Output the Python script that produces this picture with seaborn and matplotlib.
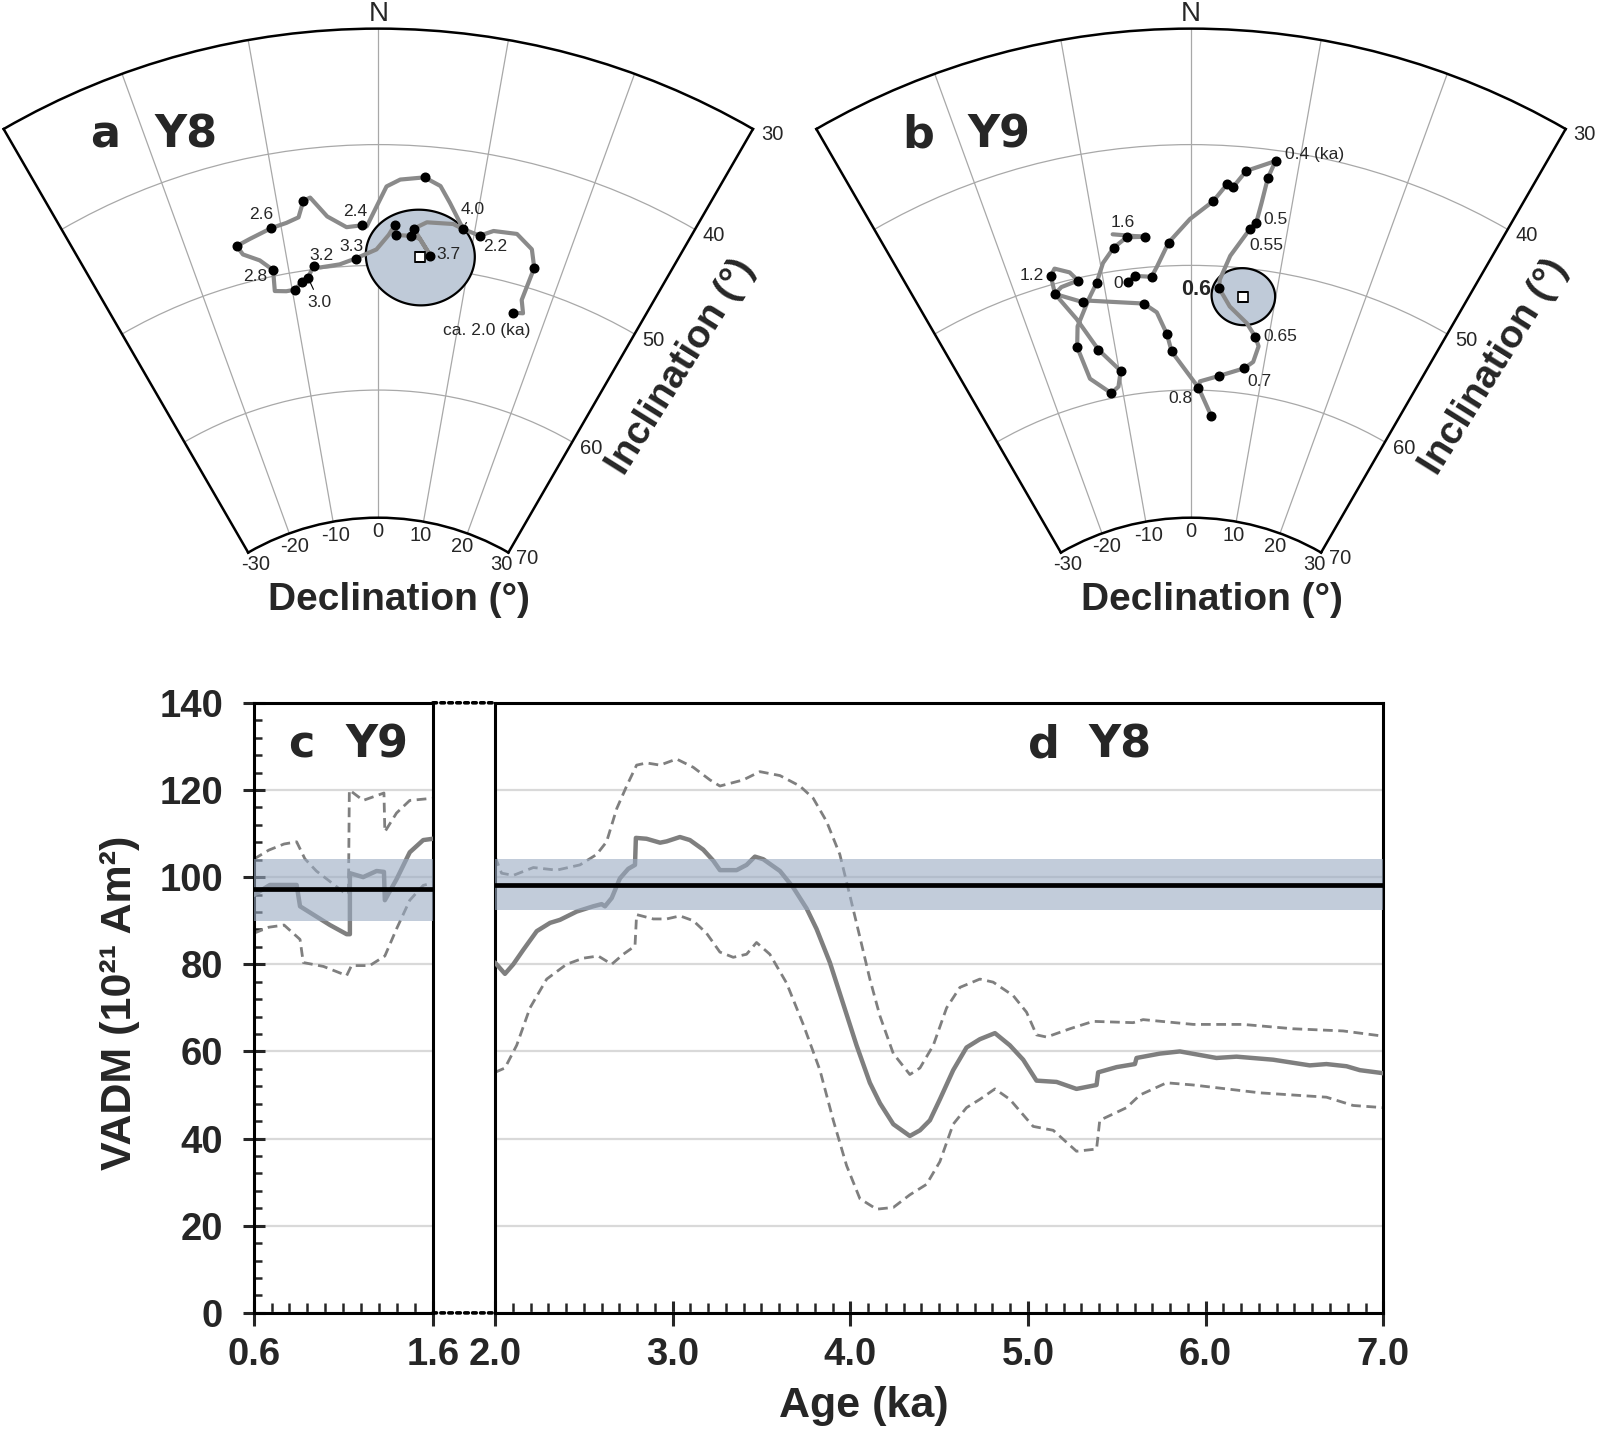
import numpy as np
import pandas as pd
import seaborn as sns
import matplotlib.pyplot as plt
from matplotlib.patches import ConnectionPatch
from matplotlib.ticker import MultipleLocator

sns.set_style("white")
plt.rcParams['font.family'] = ['Liberation Sans', 'DejaVu Sans']

W, H = 1597, 1430

# ---------- a: Y8 directions (declination, inclination in deg) ----------
y8_dec = [16.1, 17.3, 16.7, 17.0, 16.2, 14.3, 11.9, 10.6, 8.8, 7.1, 6.0, 4.4, 2.1, 0.8, -0.5, -1.2, -1.7,
          -3.3, -5.2, -6.7, -7.4, -8.1, -9.4, -11.0, -13.4, -14.9, -14.5, -12.9, -11.7, -12.0, -10.7, -9.7,
          -8.8, -8.0, -7.2, -6.5, -4.3, -2.5, -0.2, 1.1, 1.7, 1.9, 3.5, 4.4, 5.7, 3.7, 5.0, 7.7, 8.8]
y8_inc = [52.3, 52.1, 51.1, 48.3, 46.9, 46.0, 46.2, 46.8, 46.5, 44.5, 43.2, 42.6, 42.9, 43.5, 45.7, 46.8, 46.7,
          46.8, 45.8, 44.1, 44.3, 45.6, 45.9, 46.1, 46.6, 46.9, 47.7, 48.5, 49.5, 51.2, 51.4, 51.4,
          50.9, 50.6, 49.7, 49.9, 49.8, 49.4, 48.7, 47.5, 46.7, 47.5, 47.5, 47.7, 49.0, 46.9, 46.3, 46.2, 46.5]
y8_dot_dec = [16.1, 17.0, 10.6, 8.8, 4.4, -1.7, -7.4, -11.0, -14.9, -11.7, -9.7, -8.8, -8.0, -7.2, -2.5,
              1.7, 1.9, 3.5, 5.7, 3.7]
y8_dot_inc = [52.3, 48.3, 46.8, 46.5, 42.6, 46.7, 44.3, 46.1, 46.9, 49.5, 51.4, 50.9, 50.6, 49.7, 49.4,
              46.7, 47.5, 47.5, 49.0, 46.9]
y8_mean_dir = (4.6, 49.2)
y8_a95 = 3.9

# ---------- b: Y9 directions ----------
y9_dec_1 = [-7.2, -6.4, -4.5, -3.8, -2.4, -0.1, 2.2, 3.5, 4.1, 5.2, 7.8, 7.3, 7.0, 6.7, 6.1, 4.3, 3.3, 3.3,
            4.7, 7.0, 8.3, 8.9, 8.5, 7.4, 4.0, 1.3, 1.1, 3.2]
y9_inc_1 = [51.0, 50.6, 50.8, 50.0, 48.1, 46.2, 44.7, 43.2, 43.4, 42.0, 40.9, 42.4, 44.5, 46.2, 46.8, 49.1,
            51.1, 51.8, 53.2, 54.4, 55.4, 56.1, 57.4, 58.0, 58.8, 59.3, 59.8, 62.0]
y9_dec_2 = [1.1, -2.6, -3.1, -4.2, -5.7, -12.0, -12.8, -15.7, -15.6, -15.0, -13.5, -12.8, -14.8, -15.7, -14.0,
            -12.2, -9.8, -10.5, -11.7, -14.2, -14.8, -14.1, -12.1, -10.8, -9.7, -8.3, -6.8, -4.9, -6.4, -8.2]
y9_inc_2 = [59.8, 56.9, 55.5, 53.7, 52.9, 52.0, 52.0, 50.8, 49.3, 48.8, 49.4, 50.2, 50.4, 50.8, 53.2,
            56.0, 58.0, 59.2, 59.6, 58.1, 55.4, 53.8, 51.9, 50.7, 49.2, 48.1, 47.4, 47.5, 47.3, 47.0]
y9_dot_dec = [-7.2, -6.4, -4.5, -2.4, 2.2, 3.5, 4.1, 5.2, 7.8, 7.3, 6.7, 6.1, 3.3, 8.3, 7.4, 4.0, 1.1, 3.2,
              -2.6, -3.1, -5.7, -12.8, -15.7, -15.6, -12.8, -12.2, -9.8, -11.7, -14.8, -10.8, -8.3, -6.8, -4.9]
y9_dot_inc = [51.0, 50.6, 50.8, 48.1, 44.7, 43.2, 43.4, 42.0, 40.9, 42.4, 46.2, 46.8, 51.8, 55.4, 58.0, 58.8,
              59.8, 62.0, 56.9, 55.5, 52.9, 52.0, 50.8, 49.3, 50.2, 56.0, 58.0, 59.6, 55.4, 50.7, 48.1, 47.4, 47.5]
y9_mean_dir = (6.2, 52.3)
y9_a95 = 2.3

# age labels: text, anchor dec, anchor inc
y8_lab_text = ["ca. 2.0 (ka)", "2.2", "4.0", "3.7", "3.3", "3.2", "3.0", "2.8", "2.6", "2.4"]
y8_lab_dec = [16.1, 10.6, 8.8, 5.7, -2.5, -7.2, -8.0, -11.7, -11.0, -1.7]
y8_lab_inc = [52.3, 46.8, 46.5, 49.0, 49.4, 49.7, 50.6, 49.5, 46.1, 46.7]
y9_lab_text = ["0.4 (ka)", "0.5", "0.55", "0.6", "0.65", "0.7", "0.8", "1.2", "1.6", "0"]
y9_lab_dec = [7.8, 6.7, 6.1, 3.3, 8.3, 7.4, 1.1, -15.6, -6.8, -7.2]
y9_lab_inc = [40.9, 46.2, 46.8, 51.8, 55.4, 58.0, 59.8, 49.3, 47.4, 51.0]

# ---------- c, d: VADM (10^21 Am^2) ----------
y9_age = [0.6, 0.691, 0.84, 0.859, 1.026, 1.119, 1.137, 1.137, 1.211, 1.286, 1.327, 1.332, 1.397, 1.471, 1.546, 1.6]
y9_vadm = [95.9, 98.2, 98.2, 93.3, 89.0, 86.9, 86.9, 100.9, 100.0, 101.4, 101.2, 94.7, 99.5, 105.7, 108.5, 108.8]
y9_up_age = [0.6, 0.685, 0.77, 0.84, 0.886, 0.95, 1.026, 1.10, 1.129, 1.134, 1.211, 1.327, 1.332, 1.397, 1.471, 1.6]
y9_up = [104.1, 106.2, 107.6, 108.1, 104.2, 101.4, 99.0, 96.6, 96.2, 120.0, 117.6, 119.3, 110.4, 114.7, 117.6, 118.1]
y9_lo_age = [0.6, 0.685, 0.77, 0.859, 0.877, 0.99, 1.119, 1.146, 1.248, 1.332, 1.397, 1.471, 1.546, 1.6]
y9_lo = [87.1, 88.5, 89.0, 85.7, 80.4, 79.5, 77.4, 79.7, 79.7, 81.9, 88.1, 94.7, 98.1, 98.7]
y9_vadm_mean = 97.3
y9_vadm_band = (90.0, 104.2)

y8_age = [2.0, 2.056, 2.103, 2.159, 2.235, 2.310, 2.366, 2.460, 2.553, 2.600, 2.619, 2.657, 2.703, 2.750, 2.788,
          2.793, 2.853, 2.929, 2.966, 3.041, 3.097, 3.172, 3.228, 3.266, 3.360, 3.416, 3.463, 3.510, 3.604,
          3.679, 3.754, 3.810, 3.885, 3.960, 4.035, 4.110, 4.167, 4.242, 4.335, 4.392, 4.448, 4.504, 4.579,
          4.654, 4.729, 4.814, 4.898, 4.973, 5.048, 5.161, 5.273, 5.386, 5.395, 5.499, 5.602, 5.611, 5.742,
          5.855, 6.061, 6.174, 6.380, 6.586, 6.680, 6.793, 6.868, 7.0]
y8_vadm = [80.4, 77.8, 80.0, 83.3, 87.6, 89.5, 90.2, 92.1, 93.3, 93.8, 93.3, 95.2, 99.7, 101.9, 102.8,
           109.0, 108.8, 107.9, 108.2, 109.2, 108.5, 106.3, 103.8, 101.6, 101.6, 102.8, 104.7, 104.1, 101.4,
           97.6, 92.8, 88.1, 80.4, 70.9, 61.4, 52.8, 48.1, 43.3, 40.6, 41.9, 44.2, 49.0, 55.7,
           60.9, 62.8, 64.2, 61.4, 58.1, 53.3, 53.0, 51.4, 52.3, 55.2, 56.4, 57.1, 58.5, 59.5,
           60.0, 58.5, 58.8, 58.1, 56.8, 57.1, 56.6, 55.7, 55.0]
y8_up_age = [2.0, 2.037, 2.103, 2.216, 2.347, 2.478, 2.572, 2.628, 2.685, 2.741, 2.797, 2.853, 2.929, 3.022,
             3.116, 3.210, 3.266, 3.397, 3.491, 3.604, 3.716, 3.791, 3.866, 3.941, 3.998, 4.054, 4.110, 4.167,
             4.242, 4.335, 4.392, 4.467, 4.542, 4.617, 4.729, 4.804, 4.917, 4.992, 5.048, 5.105, 5.236, 5.367,
             5.592, 5.648, 5.930, 6.211, 6.492, 6.774, 7.0]
y8_up = [104.7, 100.9, 100.4, 102.2, 101.6, 102.8, 105.2, 108.1, 115.7, 120.9, 125.7, 126.2, 125.7, 127.1,
         125.2, 122.3, 120.9, 122.3, 124.2, 123.3, 120.9, 118.1, 112.8, 105.2, 95.7, 86.2, 76.6, 68.1,
         59.5, 54.7, 56.2, 61.4, 70.0, 74.7, 76.6, 75.9, 72.8, 69.0, 63.8, 63.3, 65.2, 66.9,
         66.6, 67.3, 66.2, 66.2, 65.2, 64.7, 63.5]
y8_lo_age = [2.0, 2.056, 2.122, 2.197, 2.291, 2.403, 2.497, 2.581, 2.657, 2.722, 2.788, 2.797, 2.891, 2.966,
             3.041, 3.116, 3.191, 3.266, 3.341, 3.416, 3.472, 3.547, 3.641, 3.735, 3.829, 3.904, 3.979, 4.054,
             4.148, 4.242, 4.335, 4.429, 4.504, 4.579, 4.654, 4.729, 4.814, 4.898, 5.029, 5.142, 5.273, 5.386,
             5.404, 5.555, 5.630, 5.780, 5.930, 6.118, 6.305, 6.492, 6.680, 6.830, 7.0]
y8_lo = [55.2, 56.2, 61.4, 70.0, 76.6, 80.0, 81.4, 81.9, 80.0, 82.3, 84.2, 91.4, 90.4, 90.4,
         91.1, 90.0, 87.1, 82.8, 81.6, 82.3, 85.0, 82.3, 75.7, 66.2, 55.7, 44.2, 33.8, 26.2,
         23.8, 24.2, 27.1, 29.5, 34.7, 43.3, 47.1, 49.0, 51.4, 49.0, 42.8, 41.9, 37.1, 37.6,
         44.2, 47.1, 50.0, 52.8, 52.3, 51.4, 50.5, 50.0, 49.5, 47.6, 47.1]
y8_vadm_mean = 98.3
y8_vadm_band = (92.5, 104.1)

dec_ticks = [-30, -20, -10, 0, 10, 20, 30]
inc_ticks = [30, 40, 50, 60, 70]

PATH = '#8a8a8a'
BAND = '#9aabc2'
FILL = '#bfcad8'


def eqarea(inc):
    # equal-area (Schmidt) radius of an inclination
    return np.sin(np.deg2rad(90 - np.asarray(inc, dtype=float)) / 2)


def px(x, y):
    return x / W, 1 - y / H


fig = plt.figure(figsize=(W / 100, H / 100), dpi=100)


def direction_panel(cx, paths, dot_dec, dot_inc, mean_dir, a95, labels, letter, name):
    side = 749.3
    ax = fig.add_axes([(cx - side / 2) / W, 1 - (290.6 + side / 2) / H, side / W, side / H],
                      projection='polar')
    ax.set_theta_zero_location('N')
    ax.set_theta_direction(-1)
    ax.set_thetamin(-30)
    ax.set_thetamax(30)
    ax.set_rorigin(0)
    ax.set_xticks(np.deg2rad(dec_ticks[1:-1]))
    ax.set_yticks(eqarea(inc_ticks[1:-1]))
    ax.set_xticklabels([])
    ax.set_yticklabels([])
    ax.tick_params(length=0)
    ax.grid(True, color='#a8a8a8', lw=0.9)
    for sp in ax.spines.values():
        sp.set_color('black')
        sp.set_linewidth(1.8)

    # a95 cone around the mean direction
    t = np.linspace(0, 2 * np.pi, 200)
    ci = mean_dir[1] + a95 * np.cos(t)
    cd = mean_dir[0] + a95 * np.sin(t) / np.cos(np.deg2rad(mean_dir[1]))
    ax.fill(np.deg2rad(cd), eqarea(ci), facecolor=FILL, edgecolor='black', lw=1.6, zorder=2)

    for dec, inc in paths:
        ax.plot(np.deg2rad(dec), eqarea(inc), color=PATH, lw=3, solid_capstyle='round',
                solid_joinstyle='round', zorder=3)
    ax.plot(np.deg2rad(dot_dec), eqarea(dot_inc), 'o', color='black', ms=6.2, zorder=4)
    ax.plot(np.deg2rad(mean_dir[0]), eqarea(mean_dir[1]), 's', mfc='white', mec='black',
            ms=7.5, mew=1.2, zorder=5)
    ax.set_rlim(eqarea(70), eqarea(30))

    for text, d, i, off, ha, kw in labels:
        extra = dict(kw)
        if extra.pop('leader', False):
            extra['arrowprops'] = dict(arrowstyle='-', color='black', lw=0.8, shrinkA=2, shrinkB=4)
        ax.annotate(text, xy=(np.deg2rad(d), eqarea(i)), xytext=off, textcoords='offset points',
                    ha=ha, va='center', fontsize=extra.pop('fontsize', 12.5), zorder=6,
                    annotation_clip=False, **extra)

    for d in dec_ticks:
        ax.text(np.deg2rad(d), eqarea(71.1), f'{d}', ha='center', va='center', fontsize=14.5)
    for i in inc_ticks:
        ax.annotate(f'{i}', xy=(np.deg2rad(30), eqarea(i)), xytext=(13.7, -4.3),
                    textcoords='offset points', ha='center', va='center', fontsize=14.5,
                    annotation_clip=False)
    ax.text(0, eqarea(28.7), 'N', ha='center', va='center', fontsize=20)

    fig.text(*px(cx + 21, 600), 'Declination (°)', ha='center', va='center',
             fontsize=28, fontweight='bold')
    fig.text(*px(cx + 303, 367), 'Inclination (°)', ha='center', va='center', rotation=58,
             rotation_mode='anchor', fontsize=28, fontweight='bold')
    fig.text(*px(cx - 273, 135.5), letter, ha='center', va='center', fontsize=32,
             fontweight='bold', family='DejaVu Sans')
    fig.text(*px(cx - 192, 135.5), name, ha='center', va='center', fontsize=32,
             fontweight='bold', family='DejaVu Sans')
    return ax


y8_labels = [
    (y8_lab_text[0], y8_lab_dec[0], y8_lab_inc[0], (-18.5, -12.5), 'center', {}),
    (y8_lab_text[1], y8_lab_dec[1], y8_lab_inc[1], (10.8, -7.7), 'center', {}),
    (y8_lab_text[2], y8_lab_dec[2], y8_lab_inc[2], (6.7, 14.4), 'center', {'leader': True}),
    (y8_lab_text[3], y8_lab_dec[3], y8_lab_inc[3], (13.2, 1.2), 'center', {}),
    (y8_lab_text[4], y8_lab_dec[4], y8_lab_inc[4], (-3.1, 8.6), 'center', {}),
    (y8_lab_text[5], y8_lab_dec[5], y8_lab_inc[5], (5.3, 7.7), 'center', {}),
    (y8_lab_text[6], y8_lab_dec[6], y8_lab_inc[6], (8.4, -18), 'center', {'leader': True}),
    (y8_lab_text[7], y8_lab_dec[7], y8_lab_inc[7], (-13.2, -4.8), 'center', {}),
    (y8_lab_text[8], y8_lab_dec[8], y8_lab_inc[8], (-7.2, 9.6), 'center', {}),
    (y8_lab_text[9], y8_lab_dec[9], y8_lab_inc[9], (-4.8, 9.6), 'center', {}),
]
y9_labels = [
    (y9_lab_text[0], y9_lab_dec[0], y9_lab_inc[0], (6.5, 4.8), 'left', {}),
    (y9_lab_text[1], y9_lab_dec[1], y9_lab_inc[1], (4.8, 2.4), 'left', {}),
    (y9_lab_text[2], y9_lab_dec[2], y9_lab_inc[2], (-0.5, -11.5), 'left', {}),
    (y9_lab_text[3], y9_lab_dec[3], y9_lab_inc[3], (-5.5, -0.7), 'right',
     {'fontsize': 15.5, 'fontweight': 'bold'}),
    (y9_lab_text[4], y9_lab_dec[4], y9_lab_inc[4], (6.0, 0), 'left', {}),
    (y9_lab_text[5], y9_lab_dec[5], y9_lab_inc[5], (2.4, -9.6), 'left', {}),
    (y9_lab_text[6], y9_lab_dec[6], y9_lab_inc[6], (-4.1, -7.9), 'right', {}),
    (y9_lab_text[7], y9_lab_dec[7], y9_lab_inc[7], (-5.3, 0), 'right', {}),
    (y9_lab_text[8], y9_lab_dec[8], y9_lab_inc[8], (-2.4, 10.8), 'center', {}),
    (y9_lab_text[9], y9_lab_dec[9], y9_lab_inc[9], (-3.6, -1.2), 'right', {}),
]

direction_panel(378.3, [(y8_dec, y8_inc)], y8_dot_dec, y8_dot_inc, y8_mean_dir, y8_a95,
                y8_labels, 'a', 'Y8')
direction_panel(1191.0, [(y9_dec_1, y9_inc_1), (y9_dec_2, y9_inc_2)], y9_dot_dec, y9_dot_inc,
                y9_mean_dir, y9_a95, y9_labels, 'b', 'Y9')

# ---------------- c, d : VADM ----------------
axc = fig.add_axes([253.6 / W, 1 - 1312.9 / H, (432.9 - 253.6) / W, (1312.9 - 702.8) / H])
axd = fig.add_axes([495.0 / W, 1 - 1312.9 / H, (1383.3 - 495.0) / W, (1312.9 - 702.8) / H])


def vadm_panel(ax, age, v, up_age, up, lo_age, lo, mean, band):
    ax.set_ylim(0, 140)
    ax.yaxis.set_major_locator(MultipleLocator(20))
    ax.grid(axis='y', color='#d9d9d9', lw=1.6, zorder=0)
    ax.set_axisbelow(True)
    sns.lineplot(x=up_age, y=up, ax=ax, color='#7f7f7f', lw=2.0, linestyle=(0, (3.5, 2)),
                 sort=False, estimator=None, zorder=2)
    sns.lineplot(x=lo_age, y=lo, ax=ax, color='#7f7f7f', lw=2.0, linestyle=(0, (3.5, 2)),
                 sort=False, estimator=None, zorder=2)
    sns.lineplot(x=age, y=v, ax=ax, color='#7f7f7f', lw=3.2, sort=False, estimator=None, zorder=3)
    ax.axhspan(band[0], band[1], color=BAND, alpha=0.6, lw=0, zorder=4)
    ax.axhline(mean, color='black', lw=3.4, zorder=5)
    for sp in ax.spines.values():
        sp.set_visible(True)
        sp.set_color('black')
        sp.set_linewidth(2.2)
    ax.xaxis.set_minor_locator(MultipleLocator(0.1))
    ax.tick_params(axis='x', which='major', direction='inout', length=18, width=2.2,
                   labelsize=27.5, pad=8, bottom=True)
    ax.tick_params(axis='x', which='minor', direction='in', length=7, width=1.8, bottom=True)
    ax.set_xlabel('')
    ax.set_ylabel('')


vadm_panel(axc, y9_age, y9_vadm, y9_up_age, y9_up, y9_lo_age, y9_lo, y9_vadm_mean, y9_vadm_band)
vadm_panel(axd, y8_age, y8_vadm, y8_up_age, y8_up, y8_lo_age, y8_lo, y8_vadm_mean, y8_vadm_band)

axc.set_xlim(0.6, 1.6)
axc.set_xticks([0.6, 1.6])
axc.set_xticklabels(['0.6', '1.6'], fontweight='bold')
axc.yaxis.set_minor_locator(MultipleLocator(4))
axc.tick_params(axis='y', which='major', direction='inout', length=16, width=2.2,
                labelsize=27.5, pad=14, left=True)
axc.tick_params(axis='y', which='minor', direction='in', length=6, width=1.8, left=True)
for lab in axc.get_yticklabels():
    lab.set_fontweight('bold')

axd.set_xlim(2.0, 7.0)
axd.set_xticks([2, 3, 4, 5, 6, 7])
axd.set_xticklabels(['2.0', '3.0', '4.0', '5.0', '6.0', '7.0'], fontweight='bold')
axd.tick_params(axis='y', which='both', length=0, labelleft=False)

for yv in (140, 0):
    con = ConnectionPatch(xyA=(1.6, yv), coordsA=axc.transData, xyB=(2.0, yv), coordsB=axd.transData,
                          linestyle=(0, (1, 1.2)), lw=2.6, color='black')
    fig.add_artist(con)

fig.text(*px(301.5, 744.5), 'c', ha='center', va='center', fontsize=32, fontweight='bold',
         family='DejaVu Sans')
fig.text(*px(376.8, 744.5), 'Y9', ha='center', va='center', fontsize=32, fontweight='bold',
         family='DejaVu Sans')
fig.text(*px(1044, 744.5), 'd', ha='center', va='center', fontsize=32, fontweight='bold',
         family='DejaVu Sans')
fig.text(*px(1120, 744.5), 'Y8', ha='center', va='center', fontsize=32, fontweight='bold',
         family='DejaVu Sans')

fig.text(*px(120, 1003), 'VADM (10²¹ Am²)', rotation=90, ha='center', va='center',
         fontsize=31, fontweight='bold')
fig.text(*px(863.7, 1406), 'Age (ka)', ha='center', va='center', fontsize=31, fontweight='bold')

fig.savefig('out.png', dpi=100)
